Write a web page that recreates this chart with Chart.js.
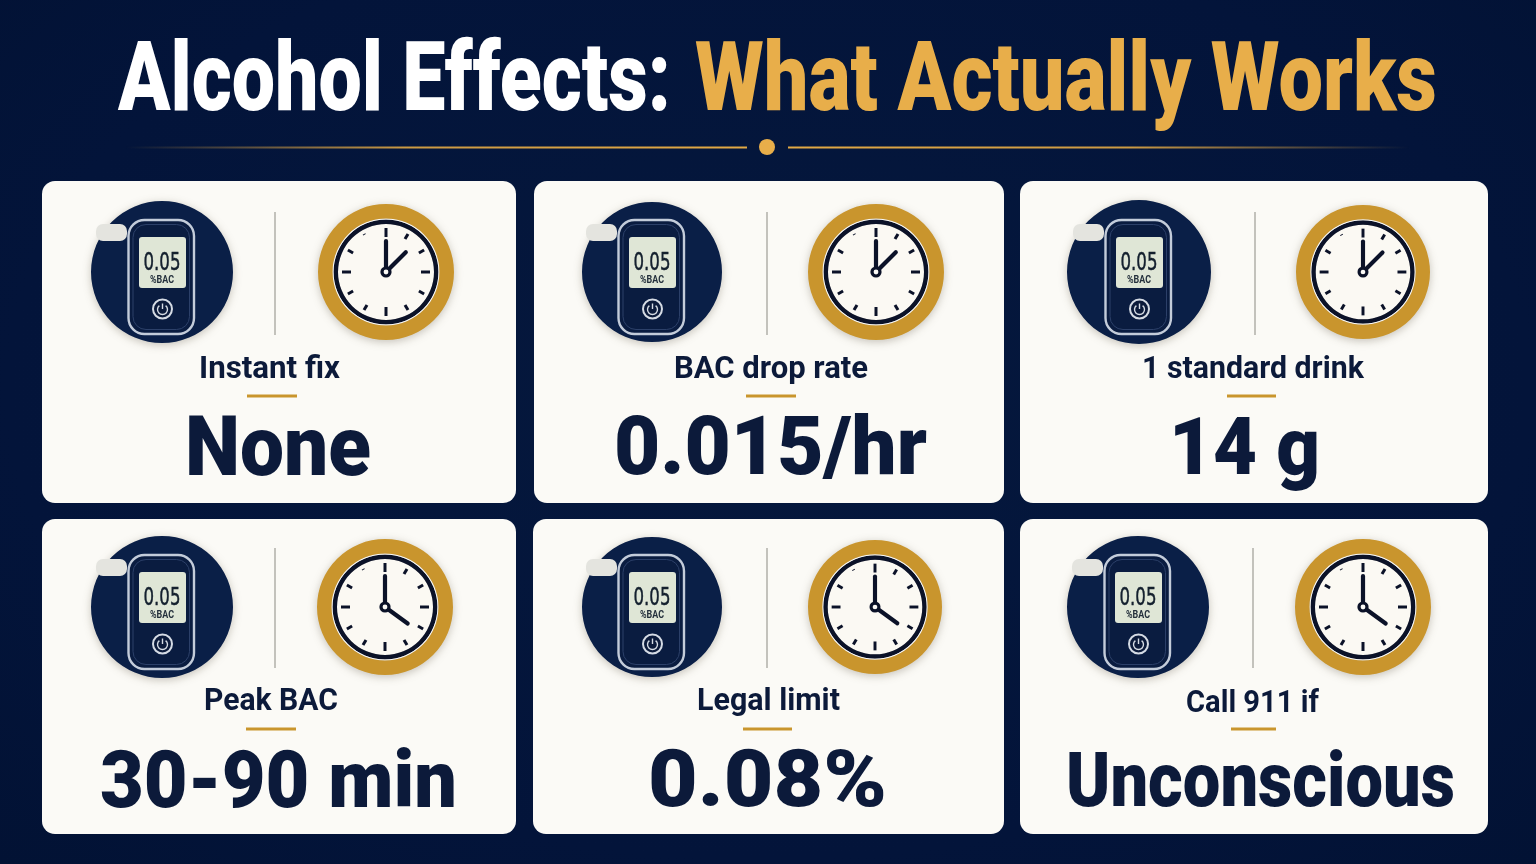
<!DOCTYPE html>
<html>
<head>
<meta charset="utf-8">
<title>Alcohol Effects: What Actually Works</title>
<script src="https://cdn.jsdelivr.net/npm/chart.js@4"></script>
<style>
    html, body { margin: 0; padding: 0; }
    body {
        width: 1536px;
        height: 864px;
        overflow: hidden;
        position: relative;
        background: radial-gradient(ellipse at 50% 45%, #05183d 0%, #03143a 70%, #021234 100%);
        font-family: Roboto, "Liberation Sans", sans-serif;
    }
    .card { position: absolute; background: #fbfaf6; border-radius: 13px; }
    .icon { position: absolute; filter: drop-shadow(0 2px 4px rgba(60, 50, 30, 0.28)); }
    #overlay { position: absolute; left: 0; top: 0; }
</style>
</head>
<body>
<svg id="overlay" width="1536" height="864" viewBox="0 0 1536 864"></svg>
<script>
// data
const titleParts = ["Alcohol Effects:", "What Actually Works"];
const cardLabels = ["Instant fix", "BAC drop rate", "1 standard drink", "Peak BAC", "Legal limit", "Call 911 if"];
const cardValues = ["None", "0.015/hr", "14 g", "30-90 min", "0.08%", "Unconscious"];
const clockHours = [1.5, 1.5, 1.5, 4.2, 4.2, 4.2];
const clockMinutes = [0, 0, 0, 0, 0, 0];
const meterReading = "0.05";
const meterUnit = "%BAC";

// layout: x, y, w, h per card
const cardBoxes = [
    [42, 181, 474, 322], [534, 181, 470, 322], [1020, 181, 468, 322],
    [42, 519, 474, 315], [533, 519, 471, 315], [1020, 519, 468, 315]
];
const meterSpots = [[162, 272, 71], [652, 272, 70], [1139, 272, 72], [162, 607, 71], [652, 607, 70], [1138, 607, 71]];
const clockSpots = [[386, 272, 68], [876, 272, 68], [1363, 272, 67], [385, 607, 68], [875, 607, 67], [1363, 607, 68]];
const dividers = [[275, 212, 335], [767, 212, 335], [1255, 212, 335], [275, 548, 668], [767, 548, 668], [1253, 548, 668]];
const labelSpots = [[199, 340, 378], [674, 868, 378], [1142, 1364, 378], [204, 338, 710], [697, 840, 710], [1186, 1319, 712]];
const rules = [[247, 297, 396], [746, 796, 396], [1227, 1276, 396], [246, 296, 729], [743, 792, 729], [1231, 1276, 729]];
const valueSpots = [[185, 371, 475, 84], [614, 927, 474, 82], [1169, 1320, 474, 80], [100, 457, 807, 80], [648, 887, 806, 80], [1066, 1455, 806, 76]];

const NAVY = "#0a1f47";
const INK = "#0c1a3a";
const GOLD = "#c9952d";

// clock face is drawn on top of the doughnut rings
const clockFace = {
    id: "clockFace",
    afterDatasetsDraw(chart, args, opts) {
        const ctx = chart.ctx;
        const cx = (chart.chartArea.left + chart.chartArea.right) / 2;
        const cy = (chart.chartArea.top + chart.chartArea.bottom) / 2;
        const k = chart.getDatasetMeta(0).controller.outerRadius / 68;
        ctx.save();
        ctx.translate(cx, cy);
        ctx.scale(k, k);
        ctx.strokeStyle = "#0b1228";
        ctx.lineCap = "butt";
        for (let i = 0; i < 12; i++) {
            const a = i * Math.PI / 6;
            let inner = 38;
            if (i % 3 === 0) inner = 35;
            if (i === 11) inner = 43;
            ctx.lineWidth = 3;
            ctx.beginPath();
            ctx.moveTo(Math.sin(a) * inner, -Math.cos(a) * inner);
            ctx.lineTo(Math.sin(a) * 44, -Math.cos(a) * 44);
            ctx.stroke();
        }
        ctx.lineCap = "round";
        ctx.lineWidth = 4.2;
        const ha = opts.hour * Math.PI / 6;
        ctx.beginPath();
        ctx.moveTo(0, 0);
        ctx.lineTo(Math.sin(ha) * 28, -Math.cos(ha) * 28);
        ctx.stroke();
        const ma = opts.minute * Math.PI / 30;
        ctx.beginPath();
        ctx.moveTo(0, 0);
        ctx.lineTo(Math.sin(ma) * 31, -Math.cos(ma) * 31);
        ctx.stroke();
        ctx.fillStyle = "#0b1228";
        ctx.beginPath();
        ctx.arc(0, 0, 5.6, 0, Math.PI * 2);
        ctx.fill();
        ctx.fillStyle = "#fbfaf6";
        ctx.beginPath();
        ctx.arc(0, 0, 2.4, 0, Math.PI * 2);
        ctx.fill();
        ctx.restore();
    }
};

function addCanvas(spot) {
    const [x, y, r] = spot;
    const canvas = document.createElement("canvas");
    canvas.className = "icon";
    canvas.width = r * 2;
    canvas.height = r * 2;
    canvas.style.left = (x - r) + "px";
    canvas.style.top = (y - r) + "px";
    canvas.style.width = (r * 2) + "px";
    canvas.style.height = (r * 2) + "px";
    document.body.insertBefore(canvas, document.getElementById("overlay"));
    return canvas;
}

function ring(color, weight) {
    return { data: [1], backgroundColor: color, borderWidth: 0, weight: weight };
}

const baseOptions = {
    responsive: false,
    animation: false,
    cutout: 0,
    layout: { padding: 0 },
    events: []
};

function drawMeter(i) {
    new Chart(addCanvas(meterSpots[i]), {
        type: "doughnut",
        data: { datasets: [ring(NAVY, 1)] },
        options: { ...baseOptions, plugins: { legend: { display: false }, tooltip: { enabled: false } } }
    });
}

function drawClock(i) {
    new Chart(addCanvas(clockSpots[i]), {
        type: "doughnut",
        data: {
            datasets: [
                ring(GOLD, 14.5),
                ring("#fbfaf6", 1),
                ring("#0b1228", 4.5),
                ring("#fbf9f3", 48)
            ]
        },
        options: {
            ...baseOptions,
            plugins: {
                legend: { display: false },
                tooltip: { enabled: false },
                clockFace: { hour: clockHours[i], minute: clockMinutes[i] }
            }
        },
        plugins: [clockFace]
    });
}

function svgText(text, x0, x1, base, size, weight, fill) {
    return `<text class="fit" data-x0="${x0}" data-x1="${x1}" data-y="${base}" ` +
        `font-family="Roboto" font-size="${size}" font-weight="${weight}" fill="${fill}">${text}</text>`;
}

// breathalyzer body, relative to the centre of its circle
function meterBody(x, y) {
    return `<g transform="translate(${x} ${y})">
        <rect x="-66" y="-48" width="31" height="17" rx="7" fill="#e4e4df"/>
        <rect x="-33.5" y="-52" width="65.5" height="114" rx="16" fill="#0a1c40" stroke="#c3ccda" stroke-width="2.4"/>
        <rect x="-29" y="-47.5" width="56.5" height="105" rx="13" fill="none" stroke="#2c4069" stroke-width="1"/>
        <rect x="-23" y="-35" width="47" height="51" rx="3" fill="#dfe6d6"/>
        <text class="fit" data-x0="-18.5" data-x1="18.5" data-y="-2" font-family="DejaVu Sans" font-size="25" stroke="#14202e" stroke-width="0.5" fill="#14202e">${meterReading}</text>
        <text class="fit" data-x0="-12" data-x1="12" data-y="11" font-family="Roboto" font-weight="700" font-size="10.5" fill="#25313d">${meterUnit}</text>
        <circle cx="0.5" cy="37" r="9.5" fill="#0b1a3a" stroke="#d5dbe4" stroke-width="2"/>
        <path d="M-2.6 33.6 A5 5 0 1 0 3.6 33.6" fill="none" stroke="#d5dbe4" stroke-width="1.4"/>
        <line x1="0.5" y1="31.5" x2="0.5" y2="37" stroke="#d5dbe4" stroke-width="1.4"/>
    </g>`;
}

// cards go under the icons
cardBoxes.forEach(([x, y, w, h]) => {
    const card = document.createElement("div");
    card.className = "card";
    card.style.left = x + "px";
    card.style.top = y + "px";
    card.style.width = w + "px";
    card.style.height = h + "px";
    document.body.insertBefore(card, document.getElementById("overlay"));
});

cardLabels.forEach((label, i) => {
    drawMeter(i);
    drawClock(i);
});

let svg = `<defs>
    <linearGradient id="fadeL" x1="0" x2="1" y1="0" y2="0">
        <stop offset="0" stop-color="#e2a945" stop-opacity="0"/>
        <stop offset="0.45" stop-color="#e2a945" stop-opacity="0.9"/>
        <stop offset="1" stop-color="#e2a945"/>
    </linearGradient>
    <linearGradient id="fadeR" x1="1" x2="0" y1="0" y2="0">
        <stop offset="0" stop-color="#e2a945" stop-opacity="0"/>
        <stop offset="0.45" stop-color="#e2a945" stop-opacity="0.9"/>
        <stop offset="1" stop-color="#e2a945"/>
    </linearGradient>
</defs>`;
svg += svgText(titleParts[0], 118, 671, 110, 97, 900, "#ffffff");
svg += svgText(titleParts[1], 695, 1437, 110, 97, 900, "#e8ae4a");
svg += `<rect x="125" y="146.5" width="622" height="2" fill="url(#fadeL)"/>`;
svg += `<rect x="788" y="146.5" width="622" height="2" fill="url(#fadeR)"/>`;
svg += `<circle cx="767" cy="147" r="8" fill="#e8ae4a"/>`;

cardLabels.forEach((label, i) => {
    const d = dividers[i];
    svg += `<rect x="${d[0] - 1}" y="${d[1]}" width="2" height="${d[2] - d[1]}" fill="#c3c2bc"/>`;
    svg += meterBody(meterSpots[i][0], meterSpots[i][1]);
    const l = labelSpots[i];
    svg += svgText(label, l[0], l[1], l[2], 31, 700, INK);
    const r = rules[i];
    svg += `<rect x="${r[0]}" y="${r[2] - 1.5}" width="${r[1] - r[0]}" height="3" fill="${GOLD}"/>`;
    const v = valueSpots[i];
    svg += svgText(cardValues[i], v[0], v[1], v[2], v[3], 900, INK);
});
const overlay = document.getElementById("overlay");
overlay.innerHTML = svg;

// squeeze each text to the width it has in the picture
overlay.querySelectorAll("text.fit").forEach(t => {
    const x0 = +t.dataset.x0;
    const x1 = +t.dataset.x1;
    const sx = (x1 - x0) / t.getComputedTextLength();
    t.setAttribute("transform", `translate(${x0} ${t.dataset.y}) scale(${sx} 1)`);
});
</script>
</body>
</html>
